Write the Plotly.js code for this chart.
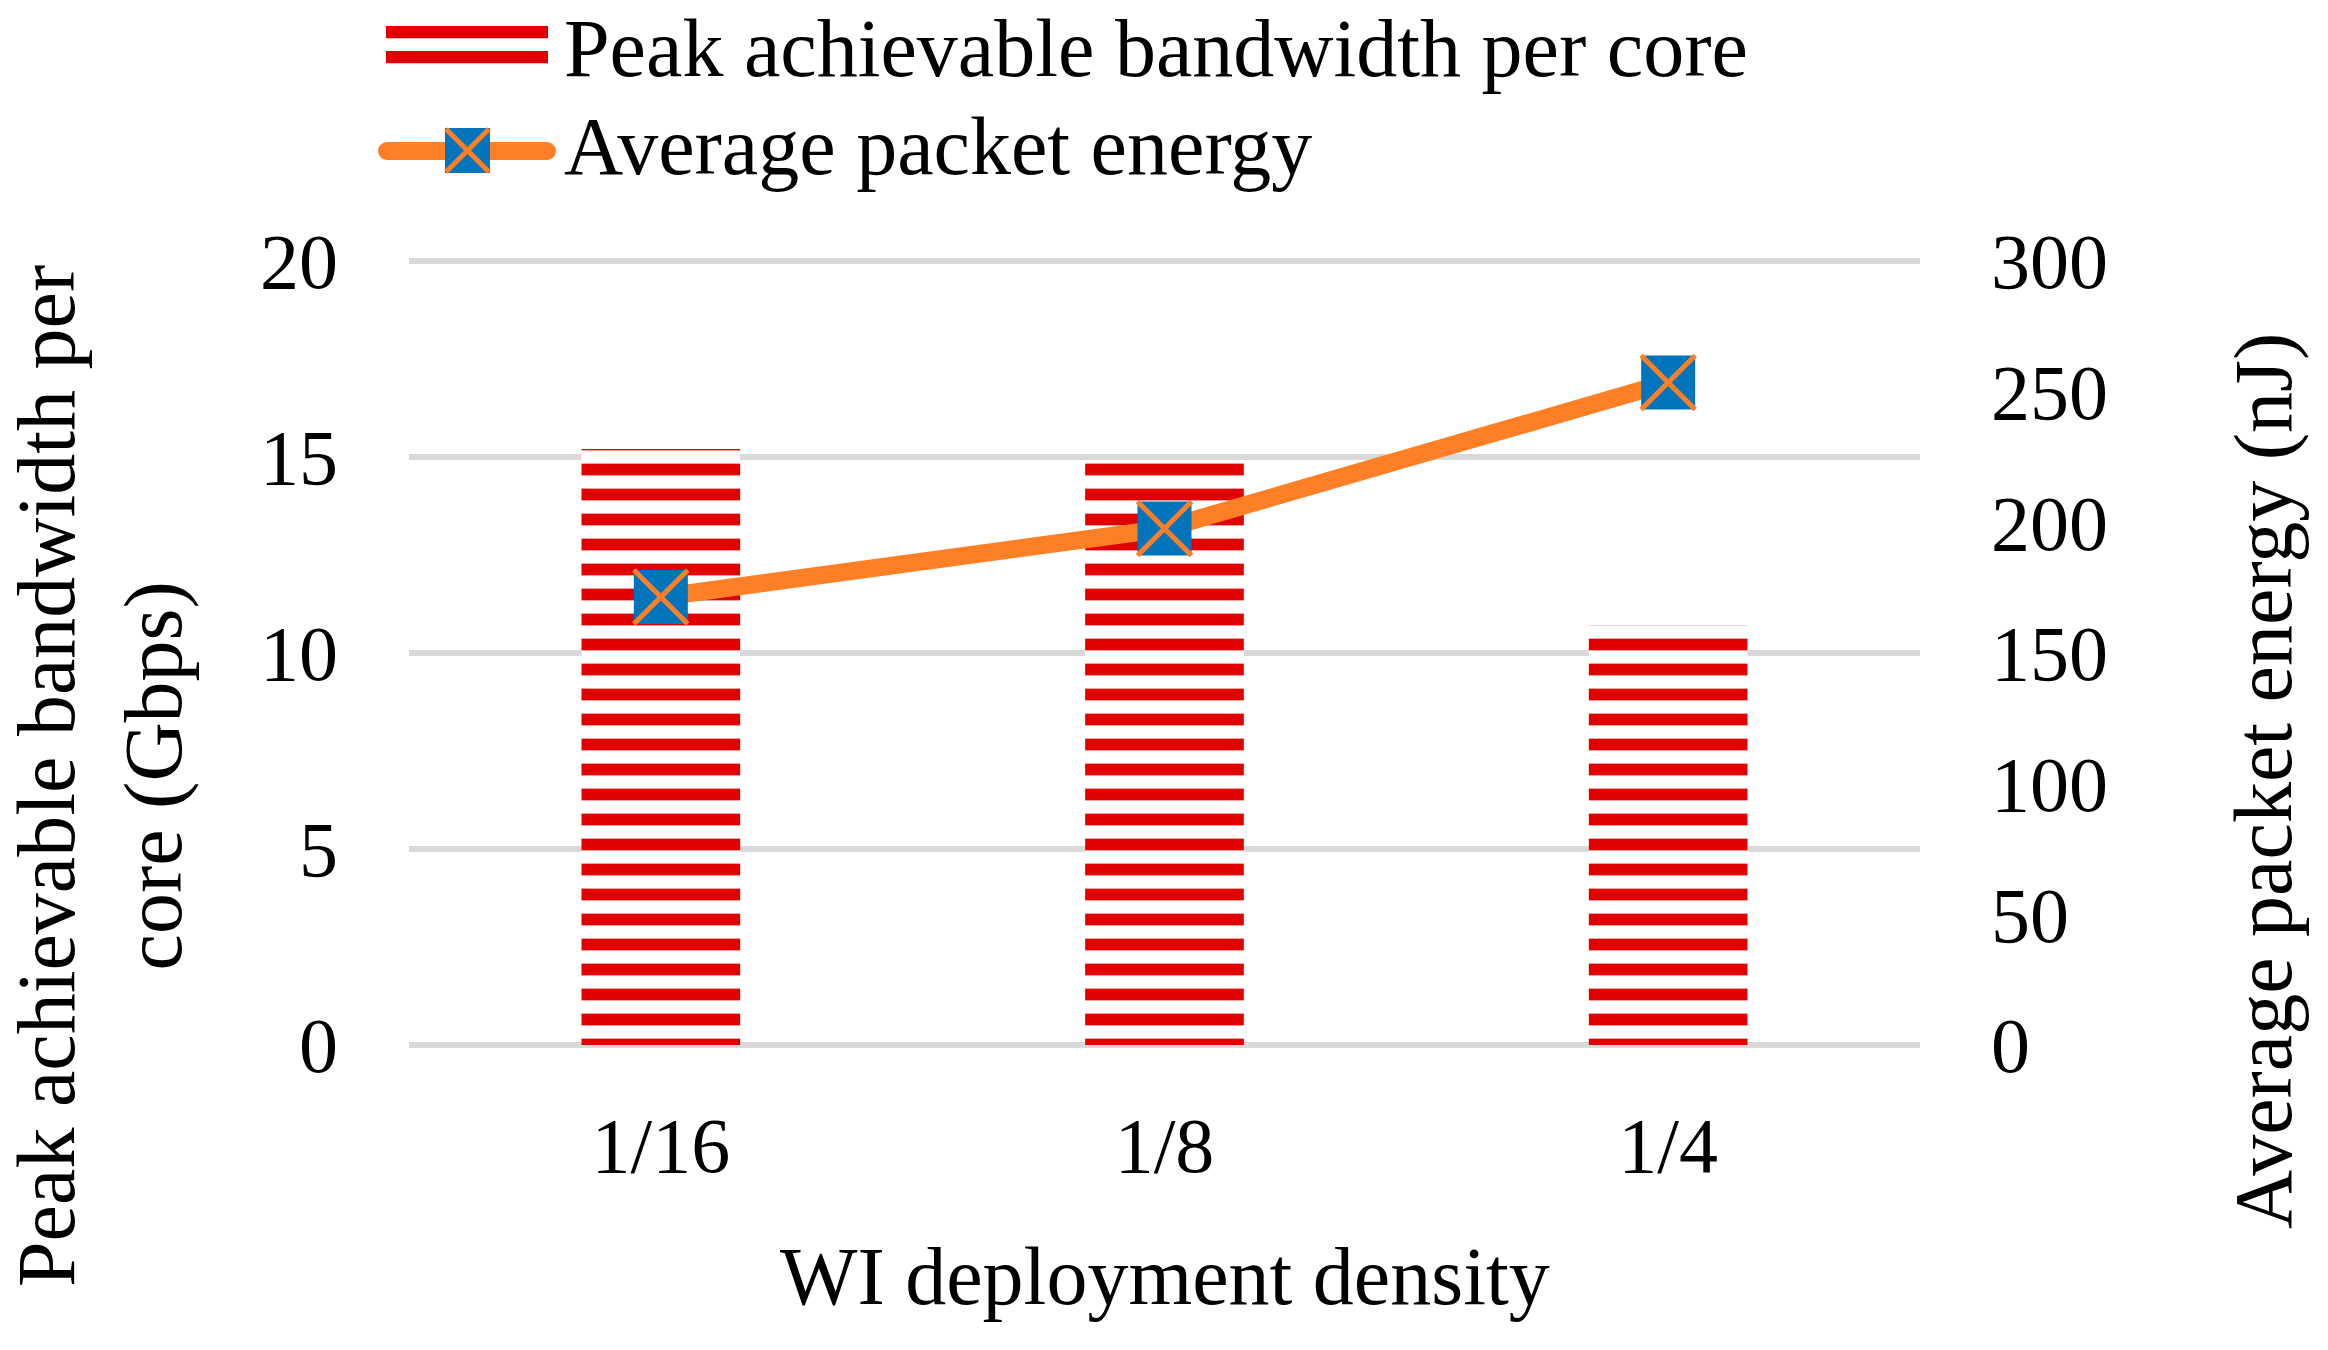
<!DOCTYPE html>
<html>
<head>
<meta charset="utf-8">
<script src="https://cdn.plot.ly/plotly-3.0.1.min.js"></script>
<style>
  html, body { margin: 0; padding: 0; background: #ffffff; }
  #grafica { width: 2328px; height: 1350px; }
</style>
</head>
<body>
<div id="grafica"></div>
<script>
const categorias = ['1/16', '1/8', '1/4'];
const anchoBanda = [15.2, 14.86, 10.7];      // Gbps
const energiaPaquete = [171.4, 197.6, 253.5]; // nJ

const ticksIzq = [0, 5, 10, 15, 20];
const ticksDer = [0, 50, 100, 150, 200, 250, 300];

const nombreBanda = 'Peak achievable bandwidth per core';
const nombreEnergia = 'Average packet energy';

const ROJO = '#E00000';
const NARANJA = '#FF7F27';
const AZUL = '#0075BC';
const FUENTE = 'Liberation Serif, Times New Roman, serif';
const TAM = 78;
const TAM_TEXTO = 82;

// un poco de aire sobre 20 para que la linea de rejilla superior se dibuje
const EXTRA = 1.005;

const W = 2328, H = 1350;
const ALTO_BASE = 784;
const M = { l: 409, r: 408, t: Math.round(261 - ALTO_BASE * (EXTRA - 1)), b: 305 };
const anchoArea = W - M.l - M.r;
const altoArea = H - M.t - M.b;

// pixel -> paper
function px(x) { return (x - M.l) / anchoArea; }
function py(y) { return (H - M.b - y) / altoArea; }

const trazaBarras = {
  x: categorias,
  y: anchoBanda,
  type: 'bar',
  name: nombreBanda,
  showlegend: false,
  marker: {
    color: '#FFFFFF',
    line: { width: 0 },
    pattern: {
      shape: '-',
      size: 25,
      solidity: 0.47,
      fgcolor: ROJO,
      bgcolor: '#FFFFFF',
      fillmode: 'replace'
    }
  },
  hoverinfo: 'skip'
};

const trazaLinea = {
  x: categorias,
  y: energiaPaquete,
  yaxis: 'y2',
  type: 'scatter',
  mode: 'lines+markers',
  name: nombreEnergia,
  showlegend: false,
  line: { color: NARANJA, width: 18 },
  marker: { symbol: 'square', size: 54, color: AZUL, line: { width: 0 } },
  hoverinfo: 'skip'
};

const trazaCruces = {
  x: categorias,
  y: energiaPaquete,
  yaxis: 'y2',
  type: 'scatter',
  mode: 'markers',
  showlegend: false,
  marker: { symbol: 'x-thin', size: 54, color: NARANJA, line: { color: NARANJA, width: 5 } },
  hoverinfo: 'skip'
};

const ejeY = {
  range: [0, 20 * EXTRA],
  tickvals: ticksIzq,
  ticks: '',
  ticklabelstandoff: 70,
  showgrid: true,
  gridcolor: '#D9D9D9',
  gridwidth: 6.7,
  zeroline: true,
  zerolinecolor: '#D9D9D9',
  zerolinewidth: 6.7,
  showline: false,
  tickfont: { family: FUENTE, size: TAM, color: '#000000' },
  fixedrange: true
};

const ejeY2 = {
  range: [0, 300 * EXTRA],
  tickvals: ticksDer,
  overlaying: 'y',
  side: 'right',
  ticks: '',
  ticklabelstandoff: 70,
  showgrid: false,
  zeroline: false,
  showline: false,
  tickfont: { family: FUENTE, size: TAM, color: '#000000' },
  fixedrange: true
};

const ejeX = {
  type: 'category',
  ticks: '',
  ticklabelstandoff: 48,
  showgrid: false,
  zeroline: false,
  showline: false,
  tickfont: { family: FUENTE, size: TAM, color: '#000000' },
  fixedrange: true
};

const fuenteTexto = { family: FUENTE, size: TAM_TEXTO, color: '#000000' };

const anotaciones = [
  {
    text: 'Peak achievable bandwidth per<br>core (Gbps)',
    x: px(100), y: py(776), xref: 'paper', yref: 'paper',
    xanchor: 'center', yanchor: 'middle', textangle: -90,
    showarrow: false, font: fuenteTexto
  },
  {
    text: 'Average packet energy (nJ)',
    x: px(2263), y: py(781), xref: 'paper', yref: 'paper',
    xanchor: 'center', yanchor: 'middle', textangle: -90,
    showarrow: false, font: fuenteTexto
  },
  {
    text: 'WI deployment density',
    x: 0.5, y: py(1276), xref: 'paper', yref: 'paper',
    xanchor: 'center', yanchor: 'middle',
    showarrow: false, font: fuenteTexto
  },
  {
    text: nombreBanda,
    x: px(562), y: py(48), xref: 'paper', yref: 'paper',
    xanchor: 'left', yanchor: 'middle',
    showarrow: false, font: fuenteTexto
  },
  {
    text: nombreEnergia,
    x: px(562), y: py(146), xref: 'paper', yref: 'paper',
    xanchor: 'left', yanchor: 'middle',
    showarrow: false, font: fuenteTexto
  }
];

// simbolos de la leyenda
const formas = [
  { type: 'rect', xref: 'paper', yref: 'paper', x0: px(386), x1: px(548), y0: py(26), y1: py(38.3),
    fillcolor: ROJO, line: { width: 0 } },
  { type: 'rect', xref: 'paper', yref: 'paper', x0: px(386), x1: px(548), y0: py(51), y1: py(63.3),
    fillcolor: ROJO, line: { width: 0 } },
  { type: 'line', xref: 'paper', yref: 'paper', x0: px(387), x1: px(547), y0: py(151), y1: py(151),
    line: { color: NARANJA, width: 18 } },
  { type: 'circle', xref: 'paper', yref: 'paper', x0: px(378), x1: px(396), y0: py(142), y1: py(160),
    fillcolor: NARANJA, line: { width: 0 } },
  { type: 'circle', xref: 'paper', yref: 'paper', x0: px(538), x1: px(556), y0: py(142), y1: py(160),
    fillcolor: NARANJA, line: { width: 0 } },
  { type: 'rect', xref: 'paper', yref: 'paper', x0: px(445), x1: px(490), y0: py(128), y1: py(173),
    fillcolor: AZUL, line: { width: 0 } },
  { type: 'line', xref: 'paper', yref: 'paper', x0: px(446), x1: px(489), y0: py(129), y1: py(172),
    line: { color: NARANJA, width: 5 } },
  { type: 'line', xref: 'paper', yref: 'paper', x0: px(446), x1: px(489), y0: py(172), y1: py(129),
    line: { color: NARANJA, width: 5 } }
];

const layout = {
  width: W,
  height: H,
  margin: M,
  paper_bgcolor: '#FFFFFF',
  plot_bgcolor: '#FFFFFF',
  font: { family: FUENTE, size: TAM, color: '#000000' },
  bargap: 0.685,
  showlegend: false,
  xaxis: ejeX,
  yaxis: ejeY,
  yaxis2: ejeY2,
  annotations: anotaciones,
  shapes: formas
};

Plotly.newPlot('grafica', [trazaBarras, trazaLinea, trazaCruces], layout, {
  displayModeBar: false,
  staticPlot: true
});
</script>
</body>
</html>
